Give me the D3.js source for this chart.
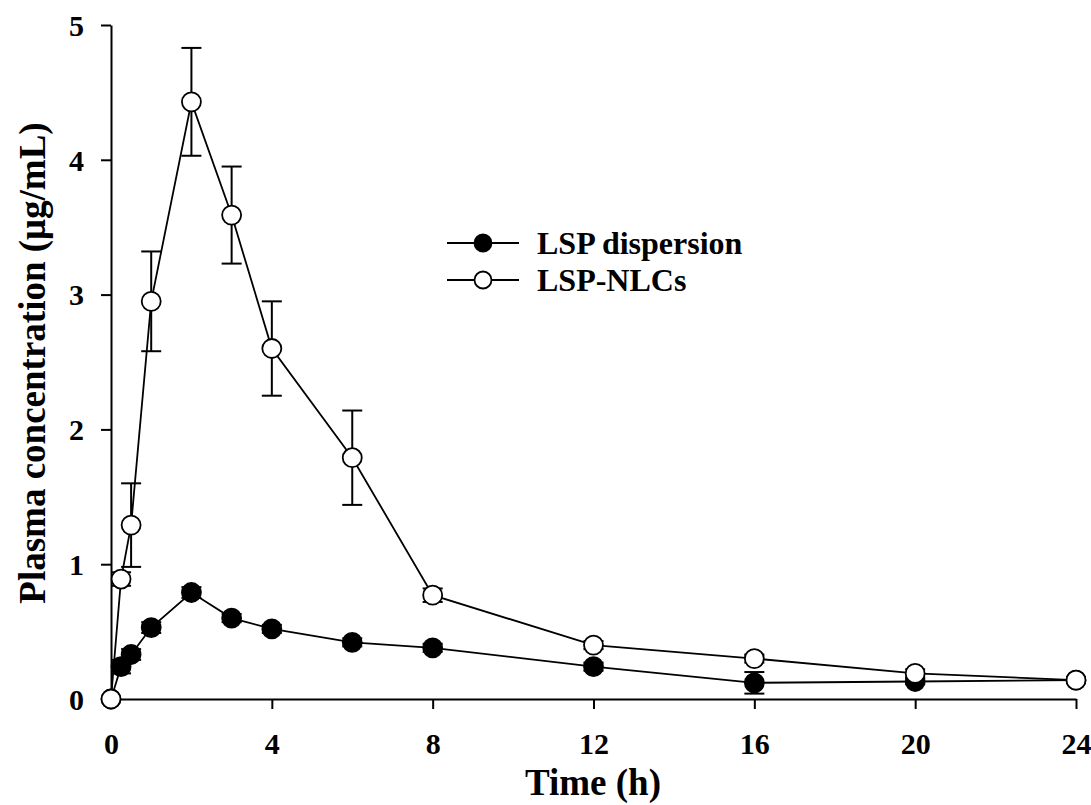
<!DOCTYPE html>
<html>
<head>
<meta charset="utf-8">
<script src="https://cdn.jsdelivr.net/npm/d3@7"></script>
<style>
  body { margin: 0; background: #fff; }
  text { font-family: "Liberation Serif", "Times New Roman", serif; font-weight: bold; }
</style>
</head>
<body>
<svg width="1091" height="805"></svg>
<script>
// time points (h)
const times = [0, 0.25, 0.5, 1, 2, 3, 4, 6, 8, 12, 16, 20, 24];

// LSP dispersion mean / SD
const dispMean = [0, 0.24, 0.33, 0.53, 0.79, 0.60, 0.52, 0.42, 0.38, 0.24, 0.12, 0.13, 0.14];
const dispSD   = [0, 0.05, 0.04, 0.04, 0.04, 0.03, 0.03, 0.03, 0.03, 0.03, 0.08, 0.02, 0.02];

// LSP-NLCs mean / SD
const nlcMean = [0, 0.89, 1.29, 2.95, 4.43, 3.59, 2.60, 1.79, 0.77, 0.40, 0.30, 0.19, 0.14];
const nlcSD   = [0, 0.05, 0.31, 0.37, 0.40, 0.36, 0.35, 0.35, 0.05, 0.03, 0.03, 0.03, 0.02];

const xTicks = [0, 4, 8, 12, 16, 20, 24];
const yTicks = [0, 1, 2, 3, 4, 5];

const svg = d3.select("svg");

const x = d3.scaleLinear().domain([0, 24]).range([111, 1076]);
const y = d3.scaleLinear().domain([0, 5]).range([699, 25]);

// axes
const xAxis = svg.append("g")
  .attr("transform", "translate(0,699)")
  .call(d3.axisBottom(x).tickValues(xTicks).tickFormat(d3.format("d")).tickSize(10).tickSizeOuter(0));
const yAxis = svg.append("g")
  .attr("transform", "translate(111,0)")
  .call(d3.axisLeft(y).tickValues(yTicks).tickFormat(d3.format("d")).tickSize(10).tickPadding(17).tickSizeOuter(0));

[xAxis, yAxis].forEach(g => {
  g.select(".domain").attr("stroke", "#000").attr("stroke-width", 2);
  g.selectAll(".tick line").attr("stroke", "#000").attr("stroke-width", 2);
  g.selectAll(".tick text")
    .attr("fill", "#000")
    .style("font-size", "30px")
    .style("font-family", "Liberation Serif, serif")
    .style("font-weight", "bold");
});
yAxis.selectAll(".tick text").attr("dy", "0.34em");
xAxis.selectAll(".tick text").attr("y", 55).attr("dy", 0);

// axis titles
svg.append("text")
  .attr("x", 593).attr("y", 795)
  .attr("text-anchor", "middle")
  .style("font-size", "37px")
  .text("Time (h)");

svg.append("text")
  .attr("transform", "translate(45,363) rotate(-90)")
  .attr("text-anchor", "middle")
  .style("font-size", "37px")
  .text("Plasma concentration (μg/mL)");

const line = d3.line().x(d => x(d.t)).y(d => y(d.m));

function drawSeries(means, sds, fill) {
  const data = times.map((t, i) => ({ t: t, m: means[i], sd: sds[i] }));
  const g = svg.append("g");

  g.append("path")
    .datum(data)
    .attr("d", line)
    .attr("fill", "none")
    .attr("stroke", "#000")
    .attr("stroke-width", 1.8);

  const eb = g.selectAll(".eb").data(data.filter(d => d.sd > 0)).enter().append("g");
  eb.append("line")
    .attr("x1", d => x(d.t)).attr("x2", d => x(d.t))
    .attr("y1", d => y(d.m - d.sd)).attr("y2", d => y(d.m + d.sd))
    .attr("stroke", "#000").attr("stroke-width", 2);
  [1, -1].forEach(s => {
    eb.append("line")
      .attr("x1", d => x(d.t) - 10).attr("x2", d => x(d.t) + 10)
      .attr("y1", d => y(d.m + s * d.sd)).attr("y2", d => y(d.m + s * d.sd))
      .attr("stroke", "#000").attr("stroke-width", 2);
  });

  g.selectAll("circle").data(data).enter().append("circle")
    .attr("cx", d => x(d.t)).attr("cy", d => y(d.m))
    .attr("r", 9.5)
    .attr("fill", fill)
    .attr("stroke", "#000")
    .attr("stroke-width", 1.8);
}

drawSeries(dispMean, dispSD, "#000");
drawSeries(nlcMean, nlcSD, "#fff");

// legend
const legend = [
  { label: "LSP dispersion", fill: "#000", y: 243 },
  { label: "LSP-NLCs", fill: "#fff", y: 280 }
];
const lg = svg.append("g").selectAll("g").data(legend).enter().append("g");
lg.append("line")
  .attr("x1", 447).attr("x2", 519)
  .attr("y1", d => d.y).attr("y2", d => d.y)
  .attr("stroke", "#000").attr("stroke-width", 1.8);
lg.append("circle")
  .attr("cx", 483).attr("cy", d => d.y).attr("r", 8.5)
  .attr("fill", d => d.fill).attr("stroke", "#000").attr("stroke-width", 1.8);
lg.append("text")
  .attr("x", 537).attr("y", d => d.y + 11)
  .style("font-size", "32px")
  .text(d => d.label);
</script>
</body>
</html>
